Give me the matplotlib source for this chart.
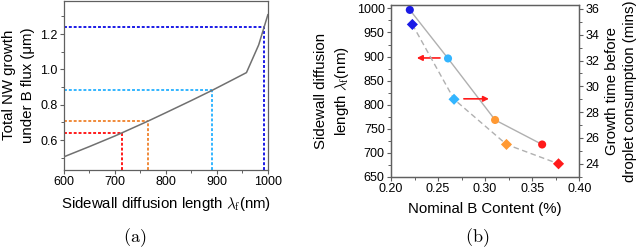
import matplotlib
matplotlib.use("Agg")
import matplotlib.pyplot as plt
from matplotlib.ticker import MultipleLocator

plt.rcParams['font.family'] = ['Liberation Sans', 'DejaVu Sans']
plt.rcParams['mathtext.fontset'] = 'cm'

# (a) growth vs diffusion length
lam = [600, 650, 700, 714, 764, 800, 850, 891, 930, 958, 982, 1000]
growth = [0.505, 0.563, 0.623, 0.641, 0.706, 0.755, 0.824, 0.882, 0.94, 0.982, 1.139, 1.31]
mark_lam = [714, 764, 891, 992]
mark_growth = [0.641, 0.706, 0.882, 1.238]
mark_cols = ['#ff1a1a', '#f08a3a', '#33b5ff', '#1a1ae6']

# (b) diffusion length and growth time vs B content
b_circ = [0.220, 0.2606, 0.3106, 0.3606]
lam_circ = [997, 896, 768, 717]
b_diam = [0.2227, 0.267, 0.3227, 0.378]
time_diam = [34.8, 29.0, 25.5, 24.0]
pt_cols = ['#1a1ae6', '#33b5ff', '#ff9933', '#ff1a1a']

LAB = 10.8
TCK = 9

fig = plt.figure(figsize=(6.37, 2.48), dpi=100)

ax1 = fig.add_axes([0.1005, 0.3145, 0.320, 0.683])
ax1.plot(lam, growth, color='#707070', lw=1.1, zorder=3)
for x, y, c in zip(mark_lam, mark_growth, mark_cols):
    ax1.plot([600, x], [y, y], color=c, lw=1.4, ls=(0, (1.5, 1)), zorder=2)
    ax1.plot([x, x], [0.43, y], color=c, lw=1.4, ls=(0, (1.5, 1)), zorder=2)
ax1.set_xlim(600, 1000)
ax1.set_ylim(0.43, 1.39)
ax1.xaxis.set_major_locator(MultipleLocator(100))
ax1.xaxis.set_minor_locator(MultipleLocator(50))
ax1.yaxis.set_minor_locator(MultipleLocator(0.1))
ax1.set_yticks([0.6, 0.8, 1.0, 1.2])
ax1.set_ylabel('Total NW growth\nunder B flux (μm)', fontsize=LAB, labelpad=4, linespacing=1.4)
ax1.set_xlabel('Sidewall diffusion length $\\lambda_\\mathrm{f}$(nm)', fontsize=LAB, labelpad=5)
fig.text(0.212, 0.04, '$\\mathrm{(a)}$', fontsize=13, ha='center', va='center')

ax2 = fig.add_axes([0.6138, 0.2875, 0.2955, 0.692])
ax3 = ax2.twinx()
ax2.plot(b_circ, lam_circ, color='#b0b0b0', lw=1.0, zorder=2)
ax2.scatter(b_circ, lam_circ, c=pt_cols, s=34, marker='o', zorder=3, linewidths=0)
ax3.plot(b_diam, time_diam, color='#b0b0b0', lw=1.0, ls=(0, (4, 2.5)), zorder=2)
ax3.scatter(b_diam, time_diam, c=pt_cols, s=32, marker='D', zorder=3, linewidths=0)
ax2.annotate('', xy=(0.2245, 897), xytext=(0.255, 897),
             arrowprops=dict(arrowstyle='-|>', color='#ff1a1a', lw=1.2, mutation_scale=8))
ax2.annotate('', xy=(0.307, 812), xytext=(0.2745, 812),
             arrowprops=dict(arrowstyle='-|>', color='#ff1a1a', lw=1.2, mutation_scale=8))
ax2.set_xlim(0.2, 0.4)
ax2.set_ylim(650, 1007)
ax3.set_ylim(23.0, 36.3)
ax2.xaxis.set_major_locator(MultipleLocator(0.05))
ax2.xaxis.set_minor_locator(MultipleLocator(0.025))
ax2.yaxis.set_major_locator(MultipleLocator(50))
ax2.yaxis.set_minor_locator(MultipleLocator(25))
ax3.set_yticks([24, 26, 28, 30, 32, 34, 36])
ax3.yaxis.set_minor_locator(MultipleLocator(1))
ax2.xaxis.set_major_formatter(matplotlib.ticker.FormatStrFormatter('%.2f'))
ax2.set_xlabel('Nominal B Content (%)', fontsize=LAB, labelpad=5)
ax2.set_ylabel('Sidewall diffusion\nlength $\\lambda_\\mathrm{f}$(nm)', fontsize=LAB, labelpad=4, linespacing=1.4)
ax3.set_ylabel('Growth time before\ndroplet consumption (mins)', fontsize=LAB, labelpad=4, linespacing=1.4)
fig.text(0.749, 0.04, '$\\mathrm{(b)}$', fontsize=13, ha='center', va='center')

for ax in (ax1, ax2, ax3):
    for s in ax.spines.values():
        s.set_color('#606060')
        s.set_linewidth(0.9)
    ax.tick_params(which='major', length=3, width=0.8, color='#606060', labelsize=TCK, pad=1.5)
    ax.tick_params(which='minor', length=2, width=0.7, color='#606060')

plt.savefig('out.png', dpi=100)
plt.close()
